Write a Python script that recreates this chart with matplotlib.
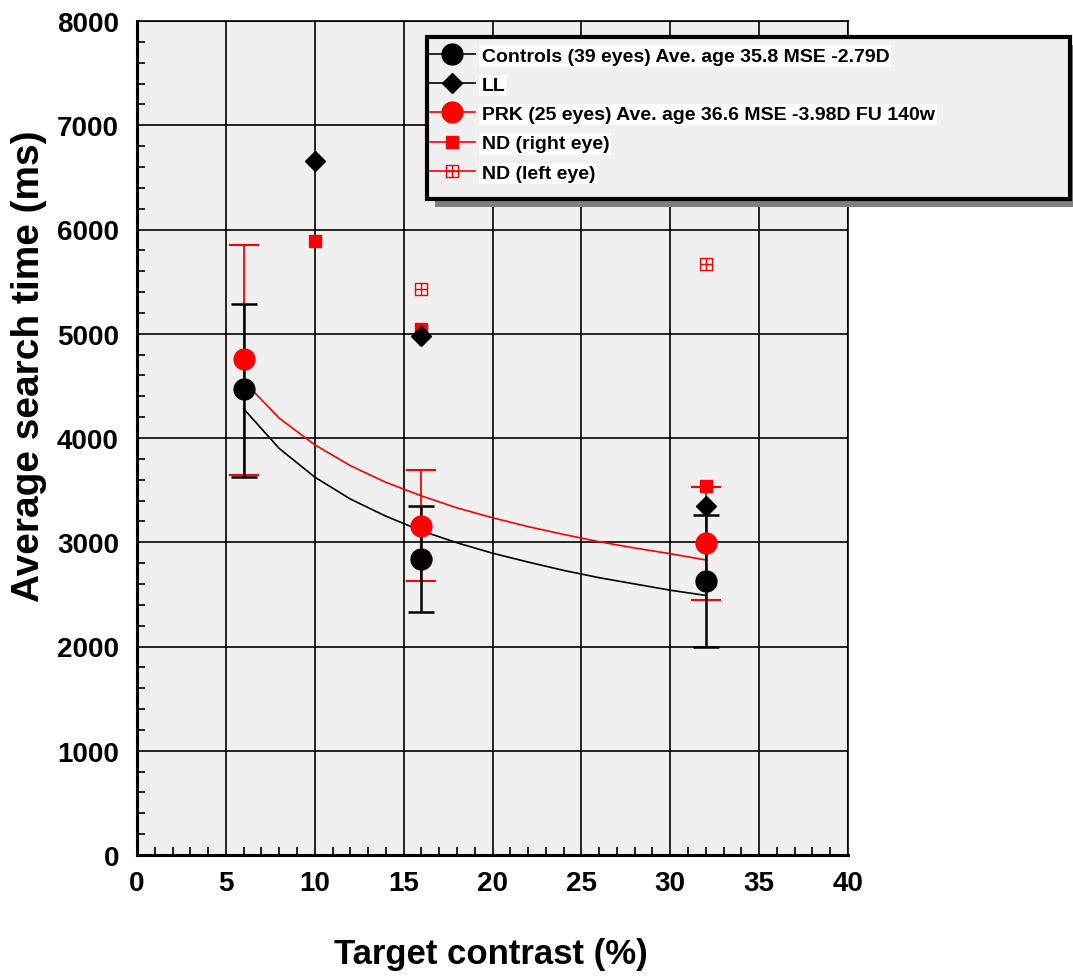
import matplotlib
matplotlib.use('Agg')
import matplotlib.pyplot as plt
from matplotlib.path import Path
from matplotlib.patches import Rectangle
from matplotlib.ticker import MultipleLocator

plt.rcParams['font.family'] = ['Liberation Sans', 'DejaVu Sans']
plt.rcParams['font.weight'] = 'bold'

W, H = 1073, 979

# group means with error bars
contrast = [6, 16, 32]
controls = [4470, 2840, 2630]
controls_lo = [3630, 2330, 1995]
controls_hi = [5285, 3350, 3262]
prk = [4755, 3160, 2995]
prk_lo = [3645, 2630, 2450]
prk_hi = [5850, 3690, 3530]

# single subjects
ll_x = [10, 16, 32]
ll_y = [6655, 4975, 3350]
nd_right_x = [10, 16, 32]
nd_right_y = [5885, 5050, 3540]
nd_left_x = [16, 32]
nd_left_y = [5430, 5665]

# fitted curves
fit_x = [6, 8, 10, 12, 14, 16, 18, 20, 22, 24, 26, 28, 30, 32]
fit_controls = [4280, 3900, 3625, 3415, 3250, 3110, 2995, 2895, 2810, 2730, 2660, 2600, 2540, 2490]
fit_prk = [4545, 4190, 3935, 3735, 3575, 3445, 3330, 3235, 3150, 3075, 3005, 2945, 2890, 2830]

legend_labels = ['Controls (39 eyes) Ave. age 35.8 MSE -2.79D', 'LL',
                 'PRK (25 eyes) Ave. age 36.6 MSE -3.98D FU 140w',
                 'ND (right eye)', 'ND (left eye)']

# square with a cross inside, like the open "boxplus" marker
boxplus = Path([(-1, -1), (1, -1), (1, 1), (-1, 1), (-1, -1), (0, -1), (0, 1), (-1, 0), (1, 0)],
               [Path.MOVETO, Path.LINETO, Path.LINETO, Path.LINETO, Path.LINETO,
                Path.MOVETO, Path.LINETO, Path.MOVETO, Path.LINETO])

fig = plt.figure(figsize=(W / 100, H / 100), dpi=100)
ax = fig.add_axes([137 / W, 1 - 856 / H, (848 - 137) / W, (856 - 22) / H])
ax.set_facecolor('#f0f0f0')

ax.plot(fit_x, fit_controls, color='black', lw=1.2, zorder=3)
ax.plot(fit_x, fit_prk, color='red', lw=1.2, zorder=3)

c_err = [[m - lo for m, lo in zip(controls, controls_lo)], [hi - m for m, hi in zip(controls, controls_hi)]]
p_err = [[m - lo for m, lo in zip(prk, prk_lo)], [hi - m for m, hi in zip(prk, prk_hi)]]
ax.errorbar(contrast, prk, yerr=p_err, fmt='none', ecolor='red', elinewidth=1.3, capsize=10.5,
            capthick=1.5, zorder=4)
ax.errorbar(contrast, controls, yerr=c_err, fmt='none', ecolor='black', elinewidth=1.8, capsize=9.5,
            capthick=1.8, zorder=5)

ax.plot(contrast, controls, 'o', color='black', ms=15, zorder=7)
ax.plot(ll_x, ll_y, 'D', color='black', ms=10, zorder=8)
ax.plot(contrast, prk, 'o', color='red', ms=15, zorder=6)
ax.plot(nd_right_x, nd_right_y, 's', color='red', ms=8.5, zorder=7)
ax.plot(nd_left_x, nd_left_y, marker=boxplus, ls='none', mfc='none', mec='red', mew=1.0,
        ms=9, zorder=7)

ax.set_xlim(0, 40)
ax.set_ylim(0, 8000)
ax.xaxis.set_major_locator(MultipleLocator(5))
ax.xaxis.set_minor_locator(MultipleLocator(1))
ax.yaxis.set_major_locator(MultipleLocator(1000))
ax.yaxis.set_minor_locator(MultipleLocator(200))
ax.tick_params(which='both', direction='in', top=False, right=False)
ax.tick_params(which='major', length=0, labelsize=20, pad=13)
ax.tick_params(which='minor', length=6, width=1.2)
ax.tick_params(axis='x', which='major', pad=11)
for lab in ax.get_xticklabels() + ax.get_yticklabels():
    lab.set_fontweight('bold')
ax.grid(True, which='major', color='black', lw=1.2)
ax.set_axisbelow(True)
for side in ['left', 'bottom']:
    ax.spines[side].set_linewidth(2.2)
for side in ['top', 'right']:
    ax.spines[side].set_linewidth(1.2)

fig.text(29 / W, 1 - 366 / H, 'Average search time (ms)', rotation=90, ha='center', va='center',
         fontsize=28, fontweight='bold')
fig.text(491 / W, 1 - 955 / H, 'Target contrast (%)', ha='center', va='center',
         fontsize=25, fontweight='bold')

# legend box with drop shadow, drawn in pixel units
box_x0, box_y0, box_x1, box_y1 = 427, 38, 1070, 200
shadow = Rectangle((box_x0 + 8, H - box_y1 - 8), box_x1 - box_x0, box_y1 - box_y0,
                   transform=None, facecolor='#7f7f7f', edgecolor='none', zorder=20)
frame = Rectangle((box_x0, H - box_y1), box_x1 - box_x0, box_y1 - box_y0,
                  transform=None, facecolor='#f0f0f0', edgecolor='black', lw=3, zorder=21)
fig.patches.extend([shadow, frame])

lh1, = ax.plot([], [], 'o-', color='black', ms=15, lw=1.2)
lh2, = ax.plot([], [], 'D-', color='black', ms=10, lw=1.2)
lh3, = ax.plot([], [], 'o-', color='red', ms=15, lw=1.2)
lh4, = ax.plot([], [], 's-', color='red', ms=8.5, lw=1.2)
lh5, = ax.plot([], [], marker=boxplus, ls='-', color='red', mfc='none', mec='red', mew=1.0, ms=9, lw=1.2)

leg = fig.legend([lh1, lh2, lh3, lh4, lh5], legend_labels, loc='upper left',
                 bbox_to_anchor=(430 / W, 1 - 48 / H), prop={'size': 14, 'weight': 'bold'},
                 frameon=False, handlelength=2.3, handletextpad=0.35, labelspacing=0.6,
                 borderpad=0, borderaxespad=0)
leg.set_zorder(22)
for t in leg.get_texts():
    t.set_bbox(dict(facecolor='white', edgecolor='none', pad=1.5))

fig.savefig('out.png', dpi=100, facecolor='white')
